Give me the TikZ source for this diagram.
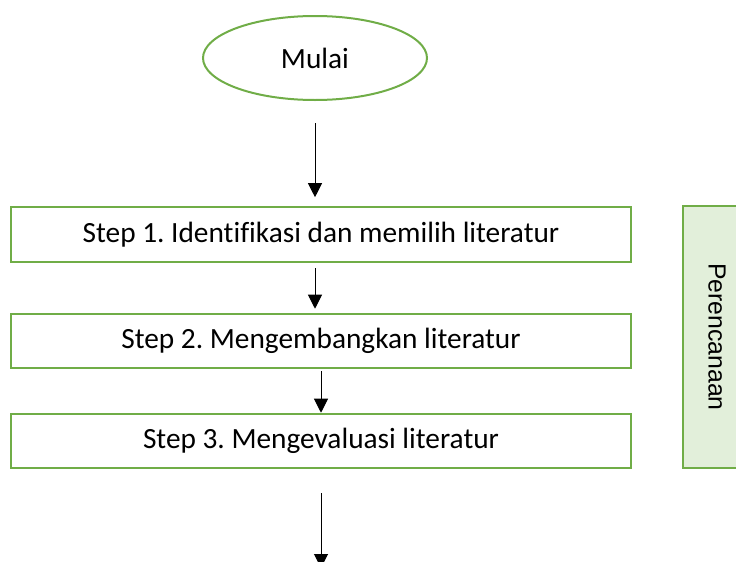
\documentclass[tikz,border=0pt]{standalone}
\usepackage{fontspec}
\setmainfont[Ligatures=NoCommon]{Carlito}
\newfontfamily\arialfont{Liberation Sans}
\usetikzlibrary{shapes,arrows.meta}
\frenchspacing
\definecolor{leafgreen}{HTML}{70AD47}
\definecolor{palegreen}{HTML}{E2EFDA}
\tikzstyle{start} = [ellipse, draw=leafgreen, line width=1.5pt, fill=white, minimum width=168pt, minimum height=63pt, font=\fontsize{22}{26}\selectfont]
\tikzstyle{block} = [rectangle, draw=leafgreen, line width=1.5pt, fill=white, minimum width=465pt, minimum height=41pt, text centered, font=\fontsize{22}{26}\selectfont]
\tikzstyle{phase} = [rectangle, draw=leafgreen, line width=1.5pt, fill=palegreen, rotate=-90, minimum width=196pt, minimum height=51pt, font=\arialfont\fontsize{18.6}{22}\selectfont]
\tikzstyle{line} = [draw, line width=0.75pt, -{Triangle[width=10.5pt,length=10.5pt]}]

\begin{document}
\begin{tikzpicture}[x=0.75pt, y=-0.75pt]
    \useasboundingbox (0,0) rectangle (736,561);
    % Place nodes
    \node [start] (init) at (315,58) {Mulai};
    \node [block, below of=init, node distance=132.4pt, xshift=4.5pt] (step1) {Step 1. Identifikasi dan memilih literatur};
    \node [block, below of=step1, node distance=79.9pt] (step2) {Step 2. Mengembangkan literatur};
    \node [block, below of=step2, node distance=75pt] (step3) {Step 3. Mengevaluasi literatur};
    \node [phase] (plan) at (717,337) {Perencanaan};
    \coordinate (next) at (322,568);
    % Draw edges
    \path [line, shorten <=16.5pt, shorten >=6.75pt] (init) -- (init |- step1.north);
    \path [line, shorten <=4pt, shorten >=3pt] (init |- step1.south) -- (init |- step2.north);
    \path [line, shorten <=1.5pt] (step2.south) -- (step3.north);
    \path [line, shorten <=18pt] (step3.south) -- (step3.south |- next);
\end{tikzpicture}
\end{document}
